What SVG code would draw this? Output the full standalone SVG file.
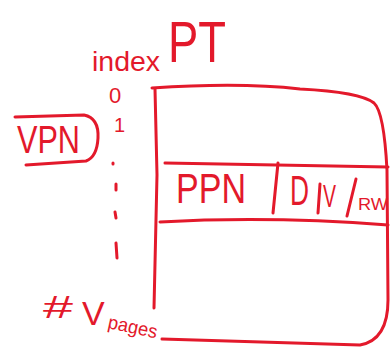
<svg xmlns="http://www.w3.org/2000/svg" width="391" height="351" viewBox="0 0 391 351">
<style>
.s{fill:none;stroke:#e3192b;stroke-width:3;stroke-linecap:round;stroke-linejoin:round}
.t{fill:#e3192b;font-family:"Liberation Sans","DejaVu Sans",sans-serif}
</style>
<rect width="391" height="351" fill="#ffffff"/>
<g id="title">
<text class="t" x="92" y="71" font-size="28" textLength="68" lengthAdjust="spacingAndGlyphs">index</text>
<text class="t" x="168" y="62" font-size="58" textLength="58" lengthAdjust="spacingAndGlyphs">PT</text>
</g>
<g id="vpn">
<path class="s" d="M15 117 L84 115 Q99 118 98 138 Q97 157 86 161 L26 165"/>
<text class="t" x="17" y="153" font-size="38" textLength="63" lengthAdjust="spacingAndGlyphs">VPN</text>
</g>
<g id="indices">
<text class="t" x="109" y="103" font-size="22">0</text>
<text class="t" x="114" y="132" font-size="20">1</text>
<path class="s" d="M113 163 L113 164 M116 184 L116 190 M115 212 L116 218 M116 243 L117 258"/>
<text class="t" x="43" y="318" font-size="32" textLength="30" lengthAdjust="spacingAndGlyphs">#</text>
<text class="t" x="82" y="325" font-size="34">V</text>
<text class="t" font-size="19" transform="translate(107 328) rotate(12)" textLength="50" lengthAdjust="spacingAndGlyphs">pages</text>
</g>
<g id="page-table">
<path class="s" d="M152 88 Q240 82 300 89 Q360 92 374 103 Q384 112 387 170 L388 300 Q388 340 360 345 L162 339"/>
<path class="s" d="M155 89 L157 175 L154 308"/>
<path class="s" d="M165 163 L388 167"/>
<path class="s" d="M160 222 Q270 216 388 225"/>
</g>
<g id="pte">
<text class="t" x="176" y="203" font-size="42" textLength="70" lengthAdjust="spacingAndGlyphs">PPN</text>
<path class="s" d="M278 163 L273 213"/>
<text class="t" x="290" y="205" font-size="42" textLength="19" lengthAdjust="spacingAndGlyphs">D</text>
<path class="s" d="M320 184 L318 213"/>
<text class="t" x="323" y="207" font-size="32" textLength="13" lengthAdjust="spacingAndGlyphs">V</text>
<path class="s" d="M356 179 L347 216"/>
<text class="t" x="358" y="210" font-size="16" textLength="30" lengthAdjust="spacingAndGlyphs">RW</text>
</g>
</svg>
